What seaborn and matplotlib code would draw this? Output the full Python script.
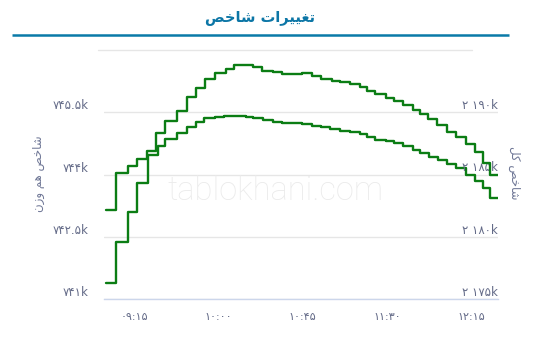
import numpy as np
import pandas as pd
import matplotlib
matplotlib.use("Agg")
import matplotlib.pyplot as plt
from matplotlib.lines import Line2D
import seaborn as sns

# ---------------- data ----------------
# minutes after 09:00 at which each step begins (last entry = end of trading shown)
minutes_total = [0, 5.56, 11.63, 16.75, 21.76, 26.72, 31.52, 38.07, 43.08, 48.04,
                 52.84, 58.17, 64.03, 68.30, 78.69, 83.49, 89.25, 94.15, 104.39, 109.72,
                 114.51, 120.38, 124.80, 130.13, 135.83, 139.35, 143.83, 149.32, 153.58, 158.65,
                 163.87, 167.44, 171.97, 176.77, 182.10, 186.63, 191.96, 196.76, 201.18, 204.76,
                 209.18]
total_index_k = [2182.15, 2185.15, 2185.71, 2186.25, 2186.89, 2188.31, 2189.33, 2190.13, 2191.21, 2191.95,
                 2192.65, 2193.16, 2193.50, 2193.76, 2193.62, 2193.34, 2193.20, 2193.08, 2193.18, 2192.92,
                 2192.66, 2192.53, 2192.43, 2192.27, 2191.99, 2191.67, 2191.43, 2191.12, 2190.91, 2190.59,
                 2190.18, 2189.85, 2189.45, 2188.98, 2188.44, 2188.04, 2187.45, 2186.77, 2185.90, 2184.92,
                 2184.92]

minutes_ew = [0, 5.66, 11.63, 16.75, 22.29, 27.94, 31.52, 38.07, 43.08, 47.88,
              52.57, 58.17, 63.23, 68.56, 74.69, 78.69, 83.92, 89.25, 94.15, 99.05,
              104.39, 109.72, 114.51, 119.47, 124.80, 130.13, 135.46, 139.35, 143.83, 149.59,
              153.58, 158.65, 163.87, 167.44, 172.24, 177.04, 182.10, 186.90, 191.96, 196.76,
              201.18, 205.02, 209.18]
equal_weight_k = [741.378, 742.362, 743.090, 743.784, 744.463, 744.680, 744.849, 744.989, 745.133, 745.266,
                  745.355, 745.382, 745.406, 745.418, 745.394, 745.355, 745.314, 745.254, 745.247, 745.235,
                  745.206, 745.170, 745.133, 745.097, 745.054, 745.013, 744.977, 744.905, 744.832, 744.808,
                  744.748, 744.676, 744.579, 744.519, 744.423, 744.338, 744.254, 744.145, 743.977, 743.832,
                  743.675, 743.427, 743.427]

time_ticks = [15, 60, 105, 150, 195]
time_labels = ["۰۹:۱۵", "۱۰:۰۰", "۱۰:۴۵", "۱۱:۳۰", "۱۲:۱۵"]
left_ticks = [741, 742.5, 744, 745.5]
left_labels = ["۷۴۱k", "۷۴۲.۵k", "۷۴۴k", "۷۴۵.۵k"]
right_ticks = [2175, 2180, 2185, 2190]
right_labels = ["۲ ۱۷۵k", "۲ ۱۸۰k", "۲ ۱۸۵k", "۲ ۱۹۰k"]

title_text = "تغییرات شاخص"
left_title = "شاخص هم وزن"
right_title = "شاخص کل"
watermark = "tablokhani.com"

# ---------------- Persian shaping (matplotlib has no bidi / joining) ----------------
_FORMS = {
    "ا": ("\uFE8D", "\uFE8E", None, None),
    "ت": ("\uFE95", "\uFE96", "\uFE97", "\uFE98"),
    "خ": ("\uFEA5", "\uFEA6", "\uFEA7", "\uFEA8"),
    "ر": ("\uFEAD", "\uFEAE", None, None),
    "ز": ("\uFEAF", "\uFEB0", None, None),
    "ش": ("\uFEB5", "\uFEB6", "\uFEB7", "\uFEB8"),
    "ص": ("\uFEB9", "\uFEBA", "\uFEBB", "\uFEBC"),
    "غ": ("\uFECD", "\uFECE", "\uFECF", "\uFED0"),
    "ل": ("\uFEDD", "\uFEDE", "\uFEDF", "\uFEE0"),
    "م": ("\uFEE1", "\uFEE2", "\uFEE3", "\uFEE4"),
    "ن": ("\uFEE5", "\uFEE6", "\uFEE7", "\uFEE8"),
    "ه": ("\uFEE9", "\uFEEA", "\uFEEB", "\uFEEC"),
    "و": ("\uFEED", "\uFEEE", None, None),
    "ی": ("\uFBFC", "\uFBFD", "\uFBFE", "\uFBFF"),
    "ک": ("\uFB8E", "\uFB8F", "\uFB90", "\uFB91"),
}


def fa(text):
    out = []
    n = len(text)
    for i, ch in enumerate(text):
        f = _FORMS.get(ch)
        if f is None:
            out.append(ch)
            continue
        prev = text[i - 1] if i > 0 else ""
        nxt = text[i + 1] if i < n - 1 else ""
        jp = prev in _FORMS and _FORMS[prev][2] is not None
        jn = f[2] is not None and nxt in _FORMS
        if jp and jn:
            g = f[3]
        elif jp:
            g = f[1]
        elif jn:
            g = f[2]
        else:
            g = f[0]
        out.append(g)
    return "".join(reversed(out))


# ---------------- style ----------------
sns.set_style("white")
plt.rcParams["font.family"] = ["DejaVu Sans"]

W, H = 552, 349
fig = plt.figure(figsize=(W / 100, H / 100), dpi=100)
ax_l, ax_r, ax_t, ax_b = 104, 498, 50, 299
ax = fig.add_axes([ax_l / W, 1 - ax_b / H, (ax_r - ax_l) / W, (ax_b - ax_t) / H])
ax2 = ax.twinx()

green = "#0b7d14"
label_col = "#646b88"
df_total = pd.DataFrame({"t": minutes_total, "v": total_index_k})
df_ew = pd.DataFrame({"t": minutes_ew, "v": equal_weight_k})

sns.lineplot(data=df_ew, x="t", y="v", ax=ax, color=green, lw=1.7,
             drawstyle="steps-post", zorder=3)
sns.lineplot(data=df_total, x="t", y="v", ax=ax2, color=green, lw=1.7,
             drawstyle="steps-post", zorder=3)

ax.set_xlim(-1, 209.2)
ax.set_ylim(741, 747)
ax2.set_ylim(2175, 2195)

ax.set_xlabel("")
ax.set_ylabel("")
ax2.set_xlabel("")
ax2.set_ylabel("")

ax.set_xticks(time_ticks)
ax.set_xticklabels(time_labels)
ax.set_yticks(left_ticks)
ax.set_yticklabels(left_labels)
ax2.set_yticks(right_ticks)
ax2.set_yticklabels(right_labels)

ax.grid(axis="y", color="#e6e6e6", lw=1)
ax.grid(axis="x", visible=False)
ax2.grid(False)
ax.set_axisbelow(True)
ax.axhline(747, xmin=(98 - ax_l) / (ax_r - ax_l), xmax=(472 - ax_l) / (ax_r - ax_l),
           color="#e6e6e6", lw=1, clip_on=False, zorder=0)

for s in ["left", "right", "top"]:
    ax.spines[s].set_visible(False)
    ax2.spines[s].set_visible(False)
ax2.spines["bottom"].set_visible(False)
ax.spines["bottom"].set_color("#ccd6eb")
ax.spines["bottom"].set_linewidth(1)

ax.tick_params(axis="x", length=7, width=1, color="#ccd6eb", labelsize=8,
               labelcolor=label_col, pad=2)
ax.tick_params(axis="y", length=0, pad=11, labelsize=8.5, labelcolor=label_col)
ax2.tick_params(axis="y", length=0, pad=0, labelsize=8.5, labelcolor=label_col)
for lab in ax.get_yticklabels():
    lab.set_va("bottom")
for lab in ax2.get_yticklabels():
    lab.set_va("bottom")
    lab.set_ha("right")

# titles
fig.text(260.5 / W, 1 - 17.5 / H, fa(title_text), ha="center", va="center",
         fontsize=10.5, fontweight="bold", color="#0c76a6")
fig.add_artist(Line2D([12 / W, 509 / W], [1 - 34.8 / H, 1 - 34.8 / H],
                      color="#0a7aa8", lw=1.8, solid_capstyle="butt"))
fig.text(38.3 / W, 1 - 173.3 / H, fa(left_title), rotation=90, ha="center", va="center",
         fontsize=8.5, color="#6f7796")
fig.text(514 / W, 1 - 173 / H, fa(right_title), rotation=-90, ha="center", va="center",
         fontsize=8.5, color="#6f7796")

fig.text(275 / W, 1 - 191 / H, watermark, ha="center", va="center", fontsize=23.5,
         color="#ebebeb", family=["Roboto", "DejaVu Sans"], fontweight="light", zorder=0)

fig.savefig("out.png", dpi=100)
